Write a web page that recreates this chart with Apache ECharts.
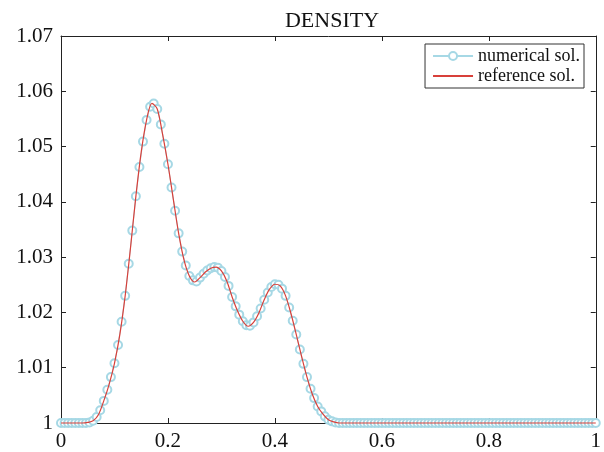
<!DOCTYPE html>
<html>
<head>
<meta charset="utf-8">
<script src="https://cdn.jsdelivr.net/npm/echarts@6/dist/echarts.min.js"></script>
<style>
  html, body { margin: 0; padding: 0; background: #fff; }
  #chart { width: 604px; height: 452px; }
</style>
</head>
<body>
<div id="chart"></div>
<script>
// x sampling steps of the two curves
const REF_STEP = 0.01;
const NUM_STEP = 1 / 150;

// reference solution, x = 0 .. 1 step 0.01
const refDensity = [
  1, 1, 1, 1, 1,
  1.0001, 1.0004, 1.0015, 1.0040, 1.0070,
  1.0108, 1.0160, 1.0230, 1.0317, 1.0410,
  1.0490, 1.0548, 1.0578, 1.0568, 1.0522,
  1.0468, 1.0405, 1.0343, 1.0295, 1.0266,
  1.0255, 1.0263, 1.0273, 1.0280, 1.0282,
  1.0275, 1.0257, 1.0228, 1.0203, 1.0184,
  1.0175, 1.0182, 1.0199, 1.0223, 1.0242,
  1.0251, 1.0248, 1.0230, 1.0198, 1.0160,
  1.0120, 1.0083, 1.0052, 1.0030, 1.0016,
  1.0006, 1.0002,
  1, 1, 1, 1, 1, 1, 1, 1, 1, 1,
  1, 1, 1, 1, 1, 1, 1, 1, 1, 1,
  1, 1, 1, 1, 1, 1, 1, 1, 1, 1,
  1, 1, 1, 1, 1, 1, 1, 1, 1, 1,
  1, 1, 1, 1, 1, 1, 1, 1, 1
];

// numerical solution, x = 0 .. 1 step 1/150
const numDensity = [
  1, 1, 1, 1, 1, 1, 1, 1,
  1.0001, 1.0004, 1.0011, 1.0023, 1.0040, 1.0060, 1.0083, 1.0108,
  1.0141, 1.0183, 1.0230, 1.0288, 1.0348, 1.0410, 1.0463, 1.0509,
  1.0548, 1.0572, 1.0578, 1.0568, 1.0540, 1.0505, 1.0468, 1.0426,
  1.0384, 1.0343, 1.0310, 1.0285, 1.0266, 1.0258, 1.0256, 1.0263,
  1.0270, 1.0276, 1.0280, 1.0282, 1.0281, 1.0275, 1.0264, 1.0248,
  1.0228, 1.0211, 1.0196, 1.0184, 1.0177, 1.0176, 1.0182, 1.0193,
  1.0207, 1.0223, 1.0236, 1.0246, 1.0251, 1.0250, 1.0243, 1.0230,
  1.0209, 1.0185, 1.0160, 1.0133, 1.0107, 1.0083, 1.0062, 1.0045,
  1.0030, 1.0021, 1.0012, 1.0006, 1.0003, 1.0001,
  1, 1, 1, 1, 1, 1, 1, 1, 1, 1,
  1, 1, 1, 1, 1, 1, 1, 1, 1, 1,
  1, 1, 1, 1, 1, 1, 1, 1, 1, 1,
  1, 1, 1, 1, 1, 1, 1, 1, 1, 1,
  1, 1, 1, 1, 1, 1, 1, 1, 1, 1,
  1, 1, 1, 1, 1, 1, 1, 1, 1, 1,
  1, 1, 1, 1, 1, 1, 1, 1, 1, 1,
  1, 1, 1
];

const xTickLabels = ['0', '0.2', '0.4', '0.6', '0.8', '1'];
const yTickLabels = ['1', '1.01', '1.02', '1.03', '1.04', '1.05', '1.06', '1.07'];

const FONT = 'Liberation Serif';
const AXIS_COLOR = '#222';
const BLUE = '#a6d8e5';
const RED = '#d8403a';

const chart = echarts.init(document.getElementById('chart'));

const refPoints = refDensity.map((v, i) => [i * REF_STEP, v]);
const numPoints = numDensity.map((v, i) => [i * NUM_STEP, v]);

const baseX = {
  type: 'value', min: 0, max: 1, interval: 0.2,
  axisLine: { onZero: false, lineStyle: { color: AXIS_COLOR, width: 1 } },
  axisTick: { inside: true, length: 5, lineStyle: { color: AXIS_COLOR } },
  splitLine: { show: false }
};
const baseY = {
  type: 'value', min: 1, max: 1.07, interval: 0.01,
  axisLine: { onZero: false, lineStyle: { color: AXIS_COLOR, width: 1 } },
  axisTick: { inside: true, length: 5, lineStyle: { color: AXIS_COLOR } },
  splitLine: { show: false }
};

const option = {
  backgroundColor: '#fff',
  animation: false,
  title: {
    text: 'DENSITY',
    left: 327, top: 5, textAlign: 'center',
    textStyle: { fontFamily: FONT, fontSize: 22, fontWeight: 'normal', color: '#111' }
  },
  grid: { left: 61, right: 3, top: 36, bottom: 28 },
  legend: {
    right: 20, top: 44,
    orient: 'vertical',
    itemWidth: 40, itemHeight: 10, itemGap: 2,
    padding: [3, 4, 3, 7],
    borderColor: '#333', borderWidth: 1,
    textStyle: { fontFamily: FONT, fontSize: 18, color: '#111' },
    data: [
      { name: 'numerical sol.' },
      { name: 'reference sol.', itemStyle: { opacity: 0 } }
    ]
  },
  xAxis: [
    Object.assign({}, baseX, {
      position: 'bottom',
      axisLabel: {
        margin: 8, fontFamily: FONT, fontSize: 21, color: '#111',
        formatter: (v, i) => xTickLabels[i]
      }
    }),
    Object.assign({}, baseX, { position: 'top', axisLabel: { show: false } })
  ],
  yAxis: [
    Object.assign({}, baseY, {
      position: 'left',
      axisLabel: {
        margin: 8, fontFamily: FONT, fontSize: 21, color: '#111',
        formatter: (v, i) => yTickLabels[i]
      }
    }),
    Object.assign({}, baseY, { position: 'right', axisLabel: { show: false } })
  ],
  series: [
    {
      name: 'numerical sol.',
      type: 'line',
      data: numPoints,
      symbol: 'emptyCircle',
      symbolSize: 8,
      showAllSymbol: true,
      clip: false,
      color: BLUE,
      itemStyle: { color: BLUE, borderColor: BLUE, borderWidth: 1 },
      lineStyle: { color: BLUE, width: 1 },
      z: 2
    },
    {
      name: 'reference sol.',
      type: 'line',
      data: refPoints,
      symbol: 'none',
      smooth: 0.3,
      clip: false,
      color: RED,
      lineStyle: { color: RED, width: 1.2 },
      z: 3
    }
  ]
};

chart.setOption(option);
</script>
</body>
</html>
